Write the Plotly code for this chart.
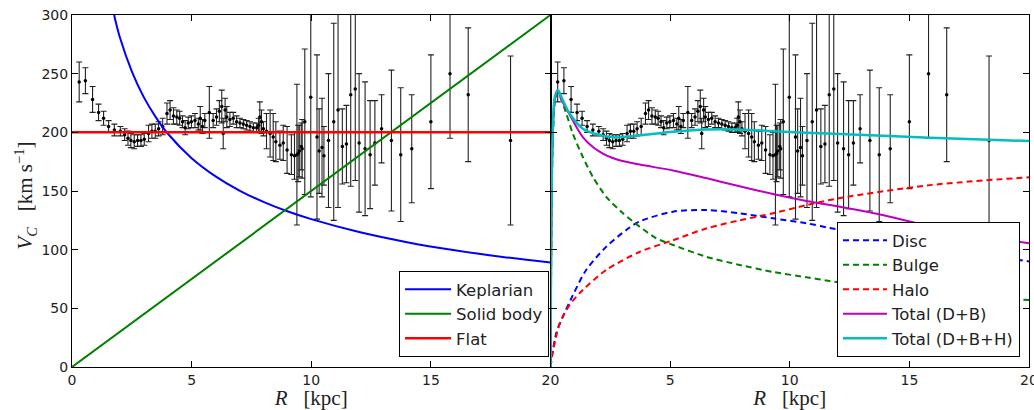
import plotly.graph_objects as go

# ---- observed rotation curve (R [kpc], V [km/s], error) ----
R_obs = [0.30, 0.56, 0.86, 1.11, 1.32, 1.53, 1.77, 2.02, 2.20, 2.34, 2.46, 2.60, 2.74, 2.88, 3.02,
         3.20, 3.34, 3.48, 3.62, 3.79, 3.97, 4.10, 4.24, 4.38, 4.50, 4.62, 4.73, 4.86, 4.99, 5.14,
         5.28, 5.36, 5.45, 5.55, 5.74, 5.90, 6.04, 6.16, 6.26, 6.32, 6.40, 6.47, 6.60, 6.74, 6.88,
         7.02, 7.16, 7.30, 7.44, 7.58, 7.72, 7.80, 7.85, 7.92, 8.00, 8.13, 8.28, 8.41, 8.52, 8.69,
         8.83, 8.99, 9.17, 9.30, 9.40, 9.45, 9.50, 9.58, 9.62, 9.73, 9.98, 10.24, 10.33, 10.45,
         10.53, 10.72, 10.94, 11.12, 11.30, 11.47, 11.65, 11.84, 12.00, 12.25, 12.46, 12.66, 12.94,
         13.35, 13.74, 14.20, 15.00, 15.80, 16.56, 18.33]
V_obs = [243, 244, 228, 217, 212, 205, 202, 201, 198, 195, 193, 192, 193, 193, 194,
         199, 201, 201, 203, 205, 216, 219, 214, 213, 212, 209, 204, 208, 209, 210,
         207, 212, 205, 210, 217, 210, 213, 218, 222, 199, 219, 213, 211, 212, 209,
         208, 207, 206, 205, 204, 204, 206, 213, 209, 203, 201, 199, 196, 192, 189,
         191, 185, 181, 180, 181, 182, 184, 188, 186, 209, 230, 196, 184, 187,
         180, 193, 209, 219, 188, 190, 232, 237, 191, 186, 181, 191, 203,
         193, 181, 186, 209, 250, 232, 193]
E_obs = [17, 11, 11, 7, 6, 5, 5, 4, 5, 6, 6, 6, 5, 5, 5,
         7, 6, 6, 6, 7, 9, 8, 7, 6, 6, 5, 6, 5, 5, 6,
         5, 10, 6, 6, 22, 6, 7, 9, 14, 13, 10, 9, 6, 5, 5,
         4, 4, 4, 4, 4, 4, 6, 13, 10, 6, 15, 20, 20, 17, 12,
         15, 20, 17, 20, 60, 24, 22, 20, 25, 62, 85, 70, 36, 42,
         25, 57, 84, 83, 32, 33, 78, 78, 59, 57, 46, 36, 29,
         60, 57, 46, 57, 55, 57, 72]

# ---- simple models (left panel) ----
R_kep = [1.76, 2.0, 2.5, 3.0, 3.5, 4.0, 5.0, 6.0, 7.0, 8.0, 9.0, 10.0, 12.0, 14.0, 16.0, 18.0, 20.0]
V_kep = [300, 281, 252, 230, 213, 199, 178, 162.5, 150.4, 140.7, 132.7, 126, 115, 106.4, 99.5, 93.8, 89]
R_solid = [0, 20]
V_solid = [0, 300]
R_flat = [0, 20]
V_flat = [200, 200]

# ---- mass model components (right panel) ----
R_disc = [0, 0.24, 0.52, 0.93, 1.49, 2.33, 3.17, 3.72, 5.12, 6.5, 7.9, 9.3, 10.7, 11.67, 14.0, 17.0, 20.0]
V_disc = [0, 28.7, 43, 61, 82.7, 102.5, 116.8, 124, 132.4, 133.8, 131, 126.7, 122.5, 118.5, 110, 99, 90]
R_bulge = [0, 0.08, 0.18, 0.31, 0.66, 0.93, 1.35, 1.77, 2.33, 3.03, 3.72, 4.42, 5.12, 6.5, 7.9, 9.3, 10.7, 11.67, 14.0, 17.0, 20.0]
V_bulge = [0, 180, 225, 234, 216, 199, 179, 162, 145, 131, 119.6, 109.7, 104, 94, 87, 81, 76.5, 73.3, 67, 61, 57]
R_halo = [0, 0.03, 0.17, 0.38, 0.8, 1.35, 2.33, 3.72, 5.12, 6.5, 7.9, 9.3, 10.7, 12.1, 15.86, 20.0]
V_halo = [0, 6, 20, 37, 53, 65.6, 82.7, 98, 108, 118, 125, 131, 138, 144, 155, 161.7]
R_tot_db = [0, 0.08, 0.18, 0.31, 0.5, 0.8, 1.35, 2.05, 2.75, 3.72, 5.12, 6.5, 7.9, 9.3, 10.7, 12.1, 13.77, 15.86, 18.0, 20.0]
V_tot_db = [0, 185, 228, 235, 226, 215, 196, 183.5, 177, 172.5, 167.5, 161, 154, 147.5, 141.5, 136.5, 130, 120, 112, 105.5]
R_tot_dbh = [0, 0.08, 0.18, 0.31, 0.5, 0.8, 1.35, 2.05, 2.75, 3.72, 5.12, 6.5, 7.9, 9.3, 10.7, 12.1, 15.86, 20.0]
V_tot_dbh = [0, 190, 230, 236, 228, 216, 203, 197.7, 195.7, 197.5, 200.5, 202.5, 202.5, 201, 199.7, 198.6, 195.4, 192.6]

BLUE, GREEN, RED, MAG, CYAN = "#0000ff", "#008000", "#ff0000", "#bf00bf", "#00bfbf"
DASH = "6px,4px"

fig = go.Figure()

def add_obs(xa, ya):
    fig.add_trace(go.Scatter(
        x=R_obs, y=V_obs, mode="markers", xaxis=xa, yaxis=ya, showlegend=False,
        marker=dict(color="black", size=3.5),
        error_y=dict(type="data", array=E_obs, color="#222222", thickness=1.1, width=3)))

add_obs("x", "y")
fig.add_trace(go.Scatter(x=R_kep, y=V_kep, mode="lines", name="Keplarian", line=dict(color=BLUE, width=2, shape="spline"),
                         xaxis="x", yaxis="y", legend="legend", legendgroup="a"))
fig.add_trace(go.Scatter(x=R_solid, y=V_solid, mode="lines", name="Solid body", line=dict(color=GREEN, width=2),
                         xaxis="x", yaxis="y", legend="legend", legendgroup="b"))
fig.add_trace(go.Scatter(x=R_flat, y=V_flat, mode="lines", name="Flat", line=dict(color=RED, width=2.5),
                         xaxis="x", yaxis="y", legend="legend", legendgroup="c"))

add_obs("x2", "y2")
fig.add_trace(go.Scatter(x=R_disc, y=V_disc, mode="lines", name="Disc", line=dict(color=BLUE, width=2, dash=DASH, shape="spline", smoothing=0.8),
                         xaxis="x2", yaxis="y2", legend="legend2", legendgroup="d"))
fig.add_trace(go.Scatter(x=R_bulge, y=V_bulge, mode="lines", name="Bulge", line=dict(color=GREEN, width=2, dash=DASH, shape="spline", smoothing=0.6),
                         xaxis="x2", yaxis="y2", legend="legend2", legendgroup="e"))
fig.add_trace(go.Scatter(x=R_halo, y=V_halo, mode="lines", name="Halo", line=dict(color=RED, width=2, dash=DASH, shape="spline", smoothing=0.8),
                         xaxis="x2", yaxis="y2", legend="legend2", legendgroup="f"))
fig.add_trace(go.Scatter(x=R_tot_db, y=V_tot_db, mode="lines", name="Total (D+B)", line=dict(color=MAG, width=2, shape="spline", smoothing=0.8),
                         xaxis="x2", yaxis="y2", legend="legend2", legendgroup="g"))
fig.add_trace(go.Scatter(x=R_tot_dbh, y=V_tot_dbh, mode="lines", name="Total (D+B+H)", line=dict(color=CYAN, width=2.5, shape="spline", smoothing=0.8),
                         xaxis="x2", yaxis="y2", legend="legend2", legendgroup="h"))

tickfont = dict(family="DejaVu Sans", size=14, color="#222222")
titlefont = dict(family="Liberation Serif", size=21, color="#222222")
legfont = dict(family="DejaVu Sans", size=16.5, color="#222222")
common = dict(showline=True, linecolor="black", linewidth=1, mirror="ticks", ticks="inside",
              ticklen=6, tickcolor="black", showgrid=False, zeroline=False, tickfont=tickfont,
              ticklabeloverflow="allow")

fig.update_layout(
    width=1034, height=410, margin=dict(l=72, r=5, t=15, b=43, autoexpand=False),
    paper_bgcolor="white", plot_bgcolor="white",
    xaxis=dict(domain=[0, 0.5], range=[0, 20], anchor="y", tickvals=[0, 5, 10, 15, 20],
               title=dict(text="<i>R</i>&nbsp;&nbsp;&nbsp;[kpc]", font=titlefont, standoff=4), **common),
    xaxis2=dict(domain=[0.5, 1], range=[0, 20], anchor="y2", tickvals=[0, 5, 10, 15, 20],
                ticktext=["", "5", "10", "15", "20"],
                title=dict(text="<i>R</i>&nbsp;&nbsp;&nbsp;[kpc]", font=titlefont, standoff=4), **common),
    yaxis=dict(domain=[0, 1], range=[0, 300], anchor="x", tickvals=[0, 50, 100, 150, 200, 250, 300], **common),
    yaxis2=dict(domain=[0, 1], range=[0, 300], anchor="x2", tickvals=[0, 50, 100, 150, 200, 250, 300],
                showticklabels=False, **common),
    legend=dict(x=0.4985, y=0.028, xanchor="right", yanchor="bottom", bgcolor="white",
                bordercolor="black", borderwidth=1, font=legfont, tracegroupgap=0, itemwidth=46),
    legend2=dict(x=0.9906, y=0.028, xanchor="right", yanchor="bottom", bgcolor="white",
                 bordercolor="black", borderwidth=1, font=legfont, tracegroupgap=0, itemwidth=44),
    annotations=[dict(text="<i>V</i><sub><i>C</i></sub>&nbsp;&nbsp;&nbsp;[km s<sup>−1</sup>]",
                      xref="paper", yref="paper", x=-0.049, y=0.487, xanchor="center", yanchor="middle",
                      textangle=-90, showarrow=False, font=titlefont)],
)

fig.write_html("out.html", post_script="document.body.style.margin='0px';",
               config={"displayModeBar": False})
